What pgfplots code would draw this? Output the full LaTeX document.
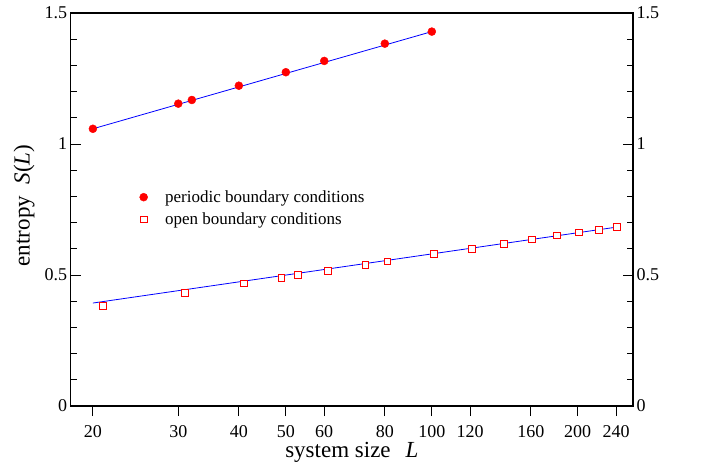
\documentclass[border=0pt]{standalone}
\usepackage{fontspec}
\setmainfont{Liberation Serif}
\usepackage{pgfplots}
\pgfplotsset{compat=1.18}

\begin{document}
\begin{tikzpicture}
\begin{axis}[
    scale only axis, width=562.3bp, height=393bp,
    at={(0,0)}, anchor=south west,
    xmode=log, xmin=18, xmax=260, ymin=0, ymax=1.5,
    xtick={20,30,40,50,60,80,100,120,160,200,240},
    xticklabels={20,30,40,50,60,80,100,120,160,200,240},
    xminorticks=false,
    ytick={0,0.5,1,1.5}, minor y tick num=4,
    axis line style={line width=1.1bp},
    major tick length=10bp, minor tick length=6bp,
    tick style={black, line width=0.9bp},
    xtick align=outside, ytick align=inside, xtick pos=left,
    tick label style={font=\fontsize{18bp}{20bp}\selectfont},
    xticklabel style={yshift=-6bp},
    yticklabel style={/pgf/number format/assume math mode=true},
    xlabel={system size\hspace{0.65em}\textit{L}},
    ylabel={entropy\hspace{0.5em}\textit{S}(\textit{L})},
    label style={font=\fontsize{23bp}{25bp}\selectfont},
    xlabel style={at={(axis description cs:0.5,-0.119)}, anchor=center},
    ylabel style={at={(axis description cs:-0.083,0.51)}, anchor=center},
    legend style={at={(0.1162,0.503)}, anchor=west, draw=none, fill=none,
      font=\fontsize{17bp}{19bp}\selectfont, row sep=5bp},
    legend cell align=left,
    legend image code/.code={
      \draw[#1] plot coordinates {(0bp,0bp)};
      \path (-4bp,0bp) (19bp,0bp);
    },
]
% fitted lines
\addplot[blue, line width=0.8bp, forget plot] coordinates {(20,1.058) (100,1.429)};
\addplot[blue, line width=0.8bp, forget plot] coordinates {(20,0.393) (241,0.683)};
% periodic
\addplot[only marks, mark=*, red, mark size=4bp] coordinates {
  (20,1.058) (30,1.154) (32,1.168) (40,1.2225) (50,1.274) (60,1.317) (80,1.383) (100,1.429)};
\addlegendentry{periodic boundary conditions}
% open
\addplot[only marks, mark=square*, red, mark size=3.3bp, line width=0.9bp,
    mark options={fill=white}] coordinates {
  (21,0.382) (31,0.431) (41,0.467) (49,0.4885) (53,0.500) (61,0.516) (73,0.539)
  (81,0.552) (101,0.580) (121,0.600) (141,0.619) (161,0.636) (181,0.651)
  (201,0.663) (221,0.673) (241,0.683)};
\addlegendentry{open boundary conditions}
\end{axis}
% right-hand tick labels
\begin{axis}[
    scale only axis, width=562.3bp, height=393bp,
    at={(0,0)}, anchor=south west,
    xmode=log, xmin=18, xmax=260, ymin=0, ymax=1.5,
    axis x line=none,
    ytick={0,0.5,1,1.5}, minor y tick num=4,
    axis line style={line width=1.1bp},
    major tick length=10bp, minor tick length=6bp,
    tick style={black, line width=0.9bp},
    ytick align=inside, yticklabel pos=right,
    tick label style={font=\fontsize{18bp}{20bp}\selectfont},
    yticklabel style={/pgf/number format/assume math mode=true},
]
\end{axis}
\pgfresetboundingbox
\path (-70.7bp,-58bp) rectangle (633.3bp,406bp);
\end{tikzpicture}
\end{document}
